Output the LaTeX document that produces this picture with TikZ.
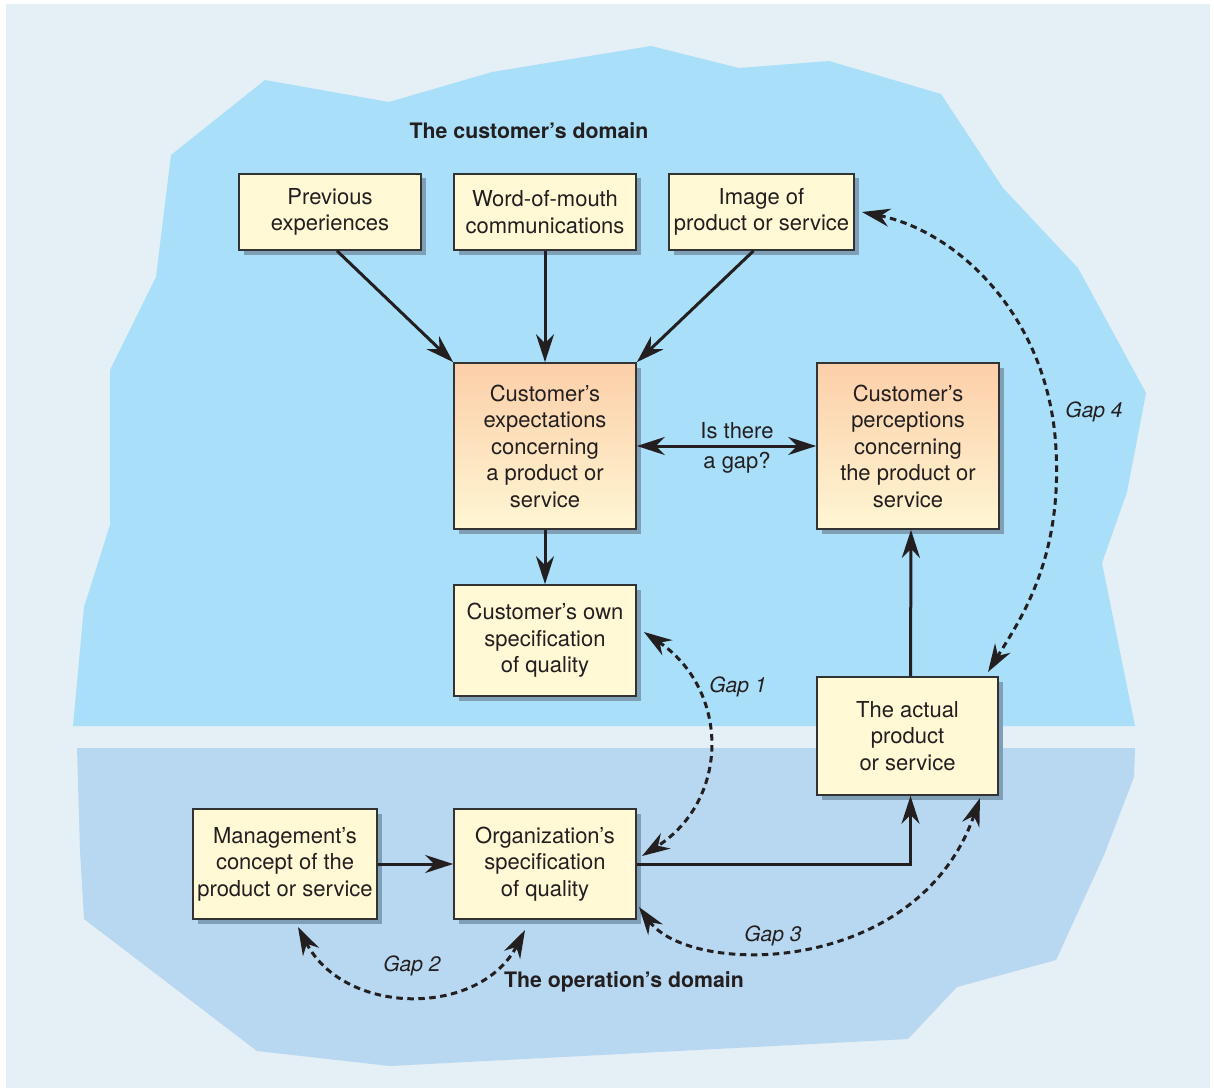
\documentclass[tikz,border=0pt]{standalone}
\usepackage{fontspec}
\setmainfont{TeX Gyre Heros}
\usetikzlibrary{arrows.meta,shadows,calc}
\definecolor{outerbg}{HTML}{E4EFF6}
\definecolor{topblob}{HTML}{A9DFF9}
\definecolor{botblob}{HTML}{B8D7F0}
\definecolor{boxfill}{HTML}{FFF9D5}
\definecolor{peachtop}{HTML}{FBCFA9}
\definecolor{peachbot}{HTML}{FFF6D3}
\definecolor{shadowc}{HTML}{7E9FB6}
\definecolor{borderc}{HTML}{333333}
\definecolor{inkc}{HTML}{231F20}
\tikzset{
  basebox/.style={draw=borderc, line width=1.7pt, inner sep=0pt, align=center,
    text=inkc, font=\fontsize{22}{26.5}\selectfont,
    drop shadow={shadow xshift=4.5pt, shadow yshift=-4.5pt, fill=shadowc, opacity=1}},
  ybox/.style={basebox, fill=boxfill},
  gbox/.style={basebox, top color=peachtop, bottom color=peachbot},
  conn/.style={draw=inkc, line width=3pt, -{Stealth[length=28pt,width=18pt,inset=9pt]}},
  gapconn/.style={draw=inkc, line width=3pt, dash pattern=on 6.5pt off 4.5pt,
    {Stealth[length=28pt,width=18pt,inset=9pt]}-{Stealth[length=28pt,width=18pt,inset=9pt]}},
  gaplabel/.style={text=inkc, font=\fontsize{21}{24}\selectfont\itshape, inner sep=0pt},
  plainlabel/.style={text=inkc, font=\fontsize{22}{26.5}\selectfont, inner sep=0pt},
  titlelabel/.style={text=inkc, font=\fontsize{21.3}{24}\selectfont\bfseries, inner sep=0pt}
}
\begin{document}
\begin{tikzpicture}[x=1pt,y=-1pt]
\useasboundingbox (0,0) rectangle (1214,1091);
\fill[white] (0,0) rectangle (1214,1091);
\fill[outerbg] (6,4) rectangle (1210,1088);
% customer's domain
\fill[topblob] (73,726) -- (84,607) -- (110,525) -- (110,370) -- (156,277) -- (171,155)
  -- (265,80) -- (389,102) -- (492,72) -- (651,46) -- (739,68) -- (829,61) -- (941,94)
  -- (1003,188) -- (1078,268) -- (1146,393) -- (1127,492) -- (1102,563) -- (1135,726) -- cycle;
% operation's domain
\fill[botblob] (77,748) -- (1135,748) -- (1134,777) -- (1104,855) -- (1056,960) -- (957,987)
  -- (908,1039) -- (390,1066) -- (257,1051) -- (84,919) -- (80,850) -- cycle;

\node[titlelabel] (ctitle) at (529,131) {The customer’s domain};
\node[titlelabel] (otitle) at (624,982) {The operation’s domain};

\node[ybox, minimum width=182pt, minimum height=76pt] (prev) at (330,212) {Previous\\experiences};
\node[ybox, minimum width=182pt, minimum height=76pt] (wom) at (545,212) {Word-of-mouth\\communications};
\node[ybox, minimum width=185pt, minimum height=76pt] (img) at (761.5,212) {Image of\\product or service};
\node[gbox, minimum width=182pt, minimum height=166pt] (exp) at (545,446) {Customer’s\\expectations\\concerning\\a product or\\service};
\node[gbox, minimum width=182pt, minimum height=166pt] (per) at (908,446) {Customer’s\\perceptions\\concerning\\the product or\\service};
\node[ybox, minimum width=182pt, minimum height=111pt] (own) at (545,640.5) {Customer’s own\\specification\\of quality};
\node[ybox, minimum width=181pt, minimum height=118pt] (act) at (907.5,736) {The actual\\product\\or service};
\node[ybox, minimum width=184pt, minimum height=110pt] (mgmt) at (285,864) {Management’s\\concept of the\\product or service};
\node[ybox, minimum width=182pt, minimum height=110pt] (org) at (545,864) {Organization’s\\specification\\of quality};

% solid connectors
\draw[conn] ([xshift=7pt]prev.south) -- (exp.north west);
\draw[conn] (wom.south) -- (exp.north);
\draw[conn] ([xshift=-8pt]img.south) -- (exp.north east);
\draw[conn, {Stealth[length=28pt,width=18pt,inset=9pt]}-{Stealth[length=28pt,width=18pt,inset=9pt]}] (exp.east) -- (per.west);
\node[plainlabel] (gapq1) at (737,431) {Is there};
\node[plainlabel] (gapq2) at (737,463) {a gap?};
\draw[conn] (exp.south) -- (own.north);
\draw[conn] ([xshift=3pt]act.north) -- ([xshift=3pt]per.south);
\draw[conn] (mgmt.east) -- (org.west);
\draw[conn] (org.east) -| ([xshift=3pt]act.south);

% gaps
\coordinate (g1a) at (644,632);
\coordinate (g1b) at (642,856);
\draw[gapconn] (g1a) .. controls (730,690) and (730,800) .. (g1b);
\node[gaplabel] (gap1) at (738,687) {Gap 1};

\coordinate (g2a) at (298,927);
\coordinate (g2b) at (525,930);
\draw[gapconn] (g2a) .. controls (345,1017) and (480,1017) .. (g2b);
\node[gaplabel] (gap2) at (412,966) {Gap 2};

\coordinate (g3a) at (639,907);
\coordinate (g3b) at (980,798);
\draw[gapconn] (g3a) .. controls (690,977) and (918,977) .. (g3b);
\node[gaplabel] (gap3) at (773,936) {Gap 3};

\coordinate (g4a) at (862,212);
\coordinate (g4m) at (1056,450);
\coordinate (g4b) at (988,672);
\draw[gapconn] (g4a) .. controls (960,232) and (1050,320) .. (g4m) .. controls (1062,560) and (1020,620) .. (g4b);
\node[gaplabel] (gap4) at (1094,412) {Gap 4};
\end{tikzpicture}
\end{document}
